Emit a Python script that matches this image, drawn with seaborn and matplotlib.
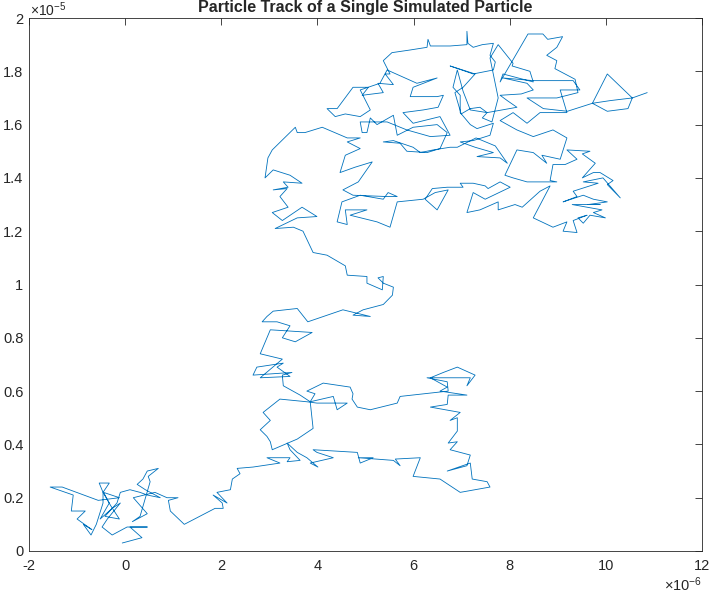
import numpy as np
import pandas as pd
import seaborn as sns
import matplotlib
matplotlib.use("Agg")
import matplotlib.pyplot as plt
from matplotlib.ticker import FuncFormatter

# track: x in units of 1e-6, y in units of 1e-5
track = [
    (-0.06,0.03),(0.35,0.05),(0.10,0.09),(0.46,0.09),(0.04,0.09),(-0.27,0.06),(-0.48,0.09),(-0.37,0.12),
    (-0.10,0.18),(-0.27,0.16),(-0.52,0.12),(-0.33,0.18),(-0.45,0.22),(-0.12,0.20),(-0.56,0.19),(-1.31,0.24),
    (-1.56,0.24),(-1.08,0.21),(-1.12,0.15),(-0.83,0.15),(-1.00,0.12),(-0.69,0.08),(-0.87,0.10),(-0.71,0.06),
    (-0.60,0.10),(-0.46,0.18),(-0.46,0.22),(-0.54,0.255),(-0.33,0.255),(-0.46,0.22),(-0.30,0.17),(-0.12,0.12),
    (-0.42,0.13),(-0.17,0.18),(-0.10,0.22),(0.10,0.23),(0.31,0.22),(0.46,0.21),(0.73,0.20),(0.42,0.23),
    (0.25,0.25),(0.37,0.27),(0.46,0.30),(0.69,0.31),(0.48,0.28),(0.52,0.26),(0.31,0.13),(0.15,0.11),
    (0.46,0.14),(0.17,0.20),(0.62,0.22),(0.87,0.20),(1.10,0.20),(0.90,0.19),(0.94,0.15),(1.23,0.10),
    (1.87,0.16),(2.04,0.16),(2.02,0.18),(1.83,0.21),(2.12,0.18),(1.91,0.22),(2.19,0.23),(2.23,0.27),
    (2.39,0.29),
    (2.33,0.31),(2.66,0.315),(3.22,0.33),(2.95,0.35),(3.43,0.35),(3.37,0.335),(3.64,0.34),(3.43,0.38),
    (3.37,0.405),(3.58,0.37),(3.78,0.35),(4.01,0.315),(3.85,0.33),(4.33,0.35),(3.99,0.37),(3.91,0.38),
    (4.83,0.37),(4.89,0.33),(5.16,0.35),(4.85,0.35),(5.58,0.34),(5.72,0.32),(5.62,0.345),(6.14,0.35),
    (5.99,0.28),(6.55,0.27),(6.97,0.22),(7.59,0.24),(7.53,0.26),(7.22,0.27),(7.18,0.33),(6.70,0.30),
    (7.11,0.32),(7.18,0.36),(6.76,0.38),(6.91,0.41),(6.72,0.405),(6.91,0.45),(6.91,0.50),(6.76,0.49),
    (6.97,0.52),(6.35,0.54),(6.70,0.55),(6.72,0.585),(7.11,0.585),(6.55,0.60),(6.70,0.615),(6.35,0.65),
    (6.62,0.67),(6.91,0.69),(7.28,0.66),(7.11,0.62),(7.18,0.65),(6.28,0.65),(6.70,0.635),(6.72,0.60),
    (5.72,0.58),(5.66,0.555),(5.10,0.53),(4.83,0.54),(4.72,0.57),(4.74,0.59),(4.68,0.615),(4.12,0.63),
    (3.78,0.60),(3.95,0.59),(3.85,0.56),(4.33,0.58),(4.41,0.53),(4.62,0.555),(3.99,0.555),(3.78,0.56),
    (3.22,0.57),(2.87,0.52),(3.02,0.49),(2.81,0.455),(2.95,0.43),(3.02,0.41),(3.06,0.38),(3.58,0.42),
    (3.91,0.46),(3.85,0.56),(3.64,0.585),(3.29,0.62),(3.27,0.66),(3.47,0.67),(2.66,0.66),(2.74,0.69),
    (3.29,0.705),(3.16,0.69),(3.43,0.655),(2.81,0.65),(3.27,0.72),
    (2.81,0.74),(3.02,0.83),(3.89,0.82),(3.54,0.785),(3.27,0.80),(3.43,0.845),(3.16,0.86),(2.85,0.86),
    (2.95,0.88),(3.08,0.90),(3.58,0.91),(3.80,0.86),(4.53,0.905),(5.10,0.88),(4.74,0.885),(4.95,0.905),
    (5.37,0.925),(5.56,0.96),(5.58,0.99),(5.37,1.005),(5.26,1.025),(5.37,1.03),(5.35,0.98),(5.03,1.005),
    (5.03,1.03),(4.62,1.035),(4.58,1.07),(4.20,1.11),(3.91,1.12),(3.70,1.20),
    (3.50,1.215),(3.12,1.21),(3.58,1.25),(3.99,1.255),(3.68,1.29),(3.27,1.24),(3.06,1.27),(3.39,1.29),
    (3.22,1.33),(3.37,1.36),(3.08,1.355),(3.39,1.365),(3.29,1.385),(3.68,1.38),(3.43,1.41),(3.08,1.43),
    (2.91,1.40),(2.97,1.475),(3.06,1.505),(3.54,1.59),(3.58,1.57),(3.74,1.57),(4.10,1.59),(4.62,1.55),
    (4.89,1.55),(4.62,1.535),(4.89,1.51),(4.58,1.485),(4.47,1.42),(4.78,1.44),(5.14,1.46),(4.85,1.385),
    (4.53,1.355),(4.74,1.335),(5.45,1.33),(5.66,1.33),(5.47,1.345),(5.37,1.32),(4.89,1.335),(4.51,1.31),
    (4.41,1.235),(4.62,1.225),(4.58,1.28),(5.03,1.28),(4.68,1.26),(5.24,1.235),(5.51,1.215),(5.66,1.31),
    (6.20,1.32),(6.45,1.345),(6.72,1.355),(6.49,1.28),(6.24,1.32),(6.39,1.36),(6.70,1.365),(7.03,1.365),
    (6.97,1.38),(7.24,1.38),(7.49,1.37),(7.55,1.36),(7.80,1.385),(8.01,1.365),(7.49,1.32),(7.24,1.345),
    (7.11,1.27),(7.38,1.28),(7.76,1.31),(7.76,1.28),(8.11,1.30),(8.26,1.29),(8.63,1.35),(8.84,1.37),
    (8.49,1.25),(8.90,1.215),(9.19,1.235),(9.11,1.20),(9.40,1.195),(9.32,1.24),(9.61,1.26),(9.42,1.25),
    (9.53,1.23),(9.67,1.26),(9.99,1.25),(9.74,1.27),(9.92,1.28),(9.30,1.30),(9.88,1.30),(9.63,1.30),
    (10.03,1.31),(9.74,1.32),(9.53,1.335),(9.11,1.31),(9.40,1.33),(9.32,1.35),(9.84,1.38),(9.53,1.385),
    (9.94,1.40),(10.30,1.325),(10.03,1.375),(10.15,1.39),(9.88,1.42),(9.74,1.42),(9.51,1.40),(9.78,1.455),
    (9.51,1.49),(9.67,1.50),(9.19,1.505),(9.40,1.47),(9.15,1.45),(8.90,1.45),(8.84,1.39),(8.98,1.385),
    (8.36,1.385),(8.07,1.40),(7.90,1.41),(8.15,1.505),(8.49,1.495),(8.77,1.455),(8.67,1.485),(9.05,1.47),
    (9.19,1.55),(8.90,1.58),(8.49,1.555),(8.15,1.58),(7.80,1.615),(8.07,1.645),(8.36,1.605),(8.63,1.645),
    (8.98,1.645),(9.19,1.645),(9.05,1.73),(9.46,1.73),(9.32,1.765),(8.49,1.765),(7.86,1.775),(8.36,1.755),
    (8.49,1.73),(8.24,1.715),(7.80,1.71),(7.95,1.69),(8.15,1.665),(7.53,1.645),(7.18,1.655),(7.03,1.725),
    (6.91,1.805),(6.82,1.74),(6.97,1.71),(6.97,1.645),(7.18,1.60),(7.32,1.585),(7.66,1.605),(7.59,1.56),
    (7.24,1.54),(6.97,1.535),(7.28,1.515),(7.66,1.495),(7.32,1.48),(7.80,1.475),(7.95,1.455),(7.70,1.52),
    (7.30,1.55),(6.91,1.515),(6.76,1.515),(6.41,1.505),(6.14,1.495),(5.99,1.515),(5.58,1.54),(5.37,1.535),
    (5.72,1.53),(5.86,1.50),(6.28,1.495),(6.55,1.51),(6.70,1.57),(6.49,1.60),(5.99,1.59),(5.66,1.56),
    (5.58,1.635),(5.24,1.60),(5.10,1.625),(5.03,1.57),(4.93,1.57),(4.89,1.61),(5.45,1.61),(5.86,1.58),
    (6.35,1.555),(6.76,1.56),(6.55,1.63),(5.99,1.605),(5.78,1.645),(6.20,1.655),(6.51,1.665),(6.62,1.71),
    (6.49,1.705),(5.93,1.705),(5.99,1.74),(6.49,1.775),(6.07,1.755),(5.45,1.805),(5.30,1.755),(4.89,1.73),
    (5.10,1.655),(4.89,1.63),(4.58,1.64),(4.37,1.63),(4.20,1.66),(4.41,1.66),(4.74,1.74),(5.06,1.74),
    (4.93,1.71),(5.37,1.72),(5.26,1.755),(5.58,1.75),(5.41,1.79),(5.51,1.79),(5.37,1.84),(5.55,1.87),
    (5.93,1.88),(6.28,1.89),(6.30,1.92),(6.35,1.895),(6.76,1.895),(7.11,1.90),(7.11,1.95),(7.13,1.905),
    (7.24,1.89),(7.43,1.90),(7.66,1.905),(7.59,1.86),(7.70,1.835),(7.66,1.805),(7.24,1.79),(6.76,1.82),
    (7.28,1.79),(7.03,1.74),(6.86,1.72),(6.99,1.64),(7.18,1.66),(7.38,1.665),(7.53,1.645),(7.43,1.625),
    (7.63,1.61),(7.76,1.70),(7.59,1.85),(7.76,1.90),(8.07,1.83),(8.05,1.82),(8.42,1.80),(8.49,1.76),
    (7.86,1.79),(7.80,1.76),(8.38,1.94),(8.69,1.94),(8.79,1.92),(9.10,1.93),(8.98,1.89),(8.77,1.86),
    (8.98,1.84),(8.94,1.81),(9.36,1.77),(9.42,1.72),(8.98,1.70),(8.36,1.70),(8.70,1.66),(9.20,1.65),
    (9.72,1.68),(10.03,1.79),(10.55,1.70),(10.46,1.66),(10.03,1.65),(9.72,1.68),(10.09,1.69),(10.55,1.70),
    (10.86,1.72),
]
x_track = [p[0] for p in track]
y_track = [p[1] for p in track]

xticks = [-2, 0, 2, 4, 6, 8, 10, 12]
yticks = [0, 0.2, 0.4, 0.6, 0.8, 1, 1.2, 1.4, 1.6, 1.8, 2]
title = "Particle Track of a Single Simulated Particle"

sns.set_style("white")
plt.rcParams['font.family'] = ['Liberation Sans', 'DejaVu Sans']
plt.rcParams['mathtext.fontset'] = 'custom'
plt.rcParams['mathtext.rm'] = 'Liberation Sans'
plt.rcParams['mathtext.it'] = 'Liberation Sans'

frame = pd.DataFrame({'x': x_track, 'y': y_track})

fig = plt.figure(figsize=(7.11, 5.99), dpi=100)
ax = fig.add_axes([29/711, 48/599, 673/711, 533/599])

sns.lineplot(data=frame, x='x', y='y', sort=False, estimator=None,
             color='#0072BD', linewidth=0.6, ax=ax)

ax.set_xlim(-2, 12)
ax.set_ylim(0, 2)
ax.set_xticks(xticks)
ax.set_yticks(yticks)
ax.xaxis.set_major_formatter(FuncFormatter(lambda v, p: '%g' % v))
ax.yaxis.set_major_formatter(FuncFormatter(lambda v, p: '%g' % v))
ax.tick_params(direction='in', length=5, width=0.6, colors='#262626',
               top=True, right=True, labelsize=10.5)
ax.tick_params(axis='x', pad=6)
ax.tick_params(axis='y', pad=4)
for s in ax.spines.values():
    s.set_visible(True)
    s.set_color('#262626')
    s.set_linewidth(0.6)
ax.set_xlabel('')
ax.set_ylabel('')
ax.set_title(title, fontsize=11.5, fontweight='bold', pad=4)

ax.text(0.002, 1.003, r'$\times10^{-5}$', transform=ax.transAxes, fontsize=10,
        color='#262626', ha='left', va='baseline')
ax.text(1.0, -0.045, r'$\times10^{-6}$', transform=ax.transAxes, fontsize=10.5,
        color='#262626', ha='right', va='top')

fig.savefig('out.png', dpi=100)
